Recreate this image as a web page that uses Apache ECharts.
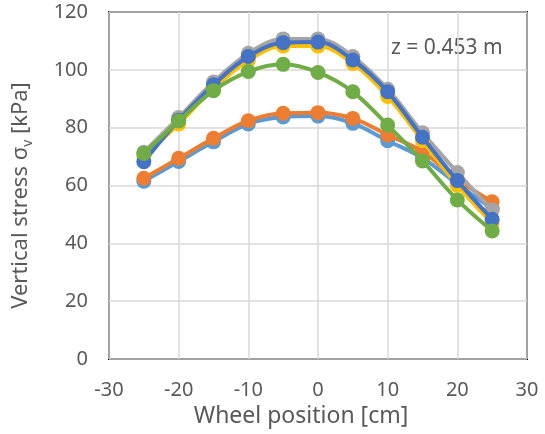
<!DOCTYPE html>
<html>
<head>
<meta charset="utf-8">
<script src="https://cdn.jsdelivr.net/npm/echarts@6/dist/echarts.min.js"></script>
<style>
  html, body { margin: 0; padding: 0; background: #fff; }
  #chart { width: 545px; height: 434px; }
</style>
</head>
<body>
<div id="chart"></div>
<script>
// wheel positions [cm]
const positions = [-25, -20, -15, -10, -5, 0, 5, 10, 15, 20, 25]

// vertical stress [kPa], one list per series (Excel default colour order)
const seriesLightBlue = [61.5, 68.3, 75.1, 81.3, 83.7, 84.0, 81.5, 75.5, 69.5, 60.5, 52.0]
const seriesOrange = [62.5, 69.4, 76.3, 82.4, 85.0, 85.2, 83.2, 77.5, 71.7, 62.0, 54.4]
const seriesGray = [71.5, 83.5, 95.8, 105.7, 110.7, 110.7, 104.6, 93.3, 78.2, 64.5, 51.5]
const seriesYellow = [70.0, 81.3, 93.5, 103.2, 108.2, 108.2, 102.2, 90.8, 75.5, 60.0, 47.0]
const seriesDarkBlue = [68.2, 82.6, 94.8, 104.6, 109.4, 109.6, 103.4, 92.4, 76.7, 61.7, 48.3]
const seriesGreen = [71.1, 82.3, 92.8, 99.4, 101.9, 99.1, 92.4, 80.9, 68.5, 55.0, 44.3]

const colors = ['#5B9BD5', '#ED7D31', '#A5A5A5', '#FFC000', '#4472C4', '#70AD47']
const allSeries = [seriesLightBlue, seriesOrange, seriesGray, seriesYellow, seriesDarkBlue, seriesGreen]

const font = 'Noto Sans'
const textGray = '#595959'

const chart = echarts.init(document.getElementById('chart'))

const makeSeries = (values, i) => {
    return {
        type: 'line',
        data: positions.map((x, k) => [x, values[k]]),
        smooth: 0.35,
        symbol: 'circle',
        symbolSize: 15,
        lineStyle: { color: colors[i], width: 4 },
        itemStyle: { color: colors[i] },
        z: 2 + i
    }
}

chart.setOption({
    animation: false,
    grid: {
        left: 109,
        right: 18,
        top: 12,
        bottom: 75,
        show: true,
        borderColor: '#000',
        borderWidth: 2
    },
    xAxis: {
        type: 'value',
        min: -30,
        max: 30,
        interval: 10,
        name: 'Wheel position [cm]',
        nameLocation: 'middle',
        nameGap: 46,
        nameTextStyle: { fontFamily: font, fontSize: 23, color: textGray, padding: [0, 34, 0, 0] },
        axisLine: { show: false },
        axisTick: { show: false },
        axisLabel: { fontFamily: font, fontSize: 20, color: textGray, margin: 21 },
        splitLine: { lineStyle: { color: '#D9D9D9', width: 1.5 } }
    },
    yAxis: {
        type: 'value',
        min: 0,
        max: 120,
        interval: 20,
        name: '{a|Vertical stress σ}{b|v}{a| [kPa]}',
        nameLocation: 'middle',
        nameGap: 74,
        nameTextStyle: {
            padding: [0, 20, 0, 0],
            rich: {
                a: { fontFamily: font, fontSize: 22, color: textGray },
                b: { fontFamily: font, fontSize: 14, color: textGray, padding: [14, 0, 0, 0] }
            }
        },
        axisLine: { show: false },
        axisTick: { show: false },
        axisLabel: { fontFamily: font, fontSize: 20, color: textGray, margin: 21 },
        splitLine: { lineStyle: { color: '#D9D9D9', width: 1.5 } }
    },
    graphic: [{
        type: 'text',
        left: 391,
        top: 38,
        style: { text: 'z = 0.453 m', fontFamily: font, fontSize: 21, fill: textGray }
    }],
    series: allSeries.map(makeSeries)
})
</script>
</body>
</html>
